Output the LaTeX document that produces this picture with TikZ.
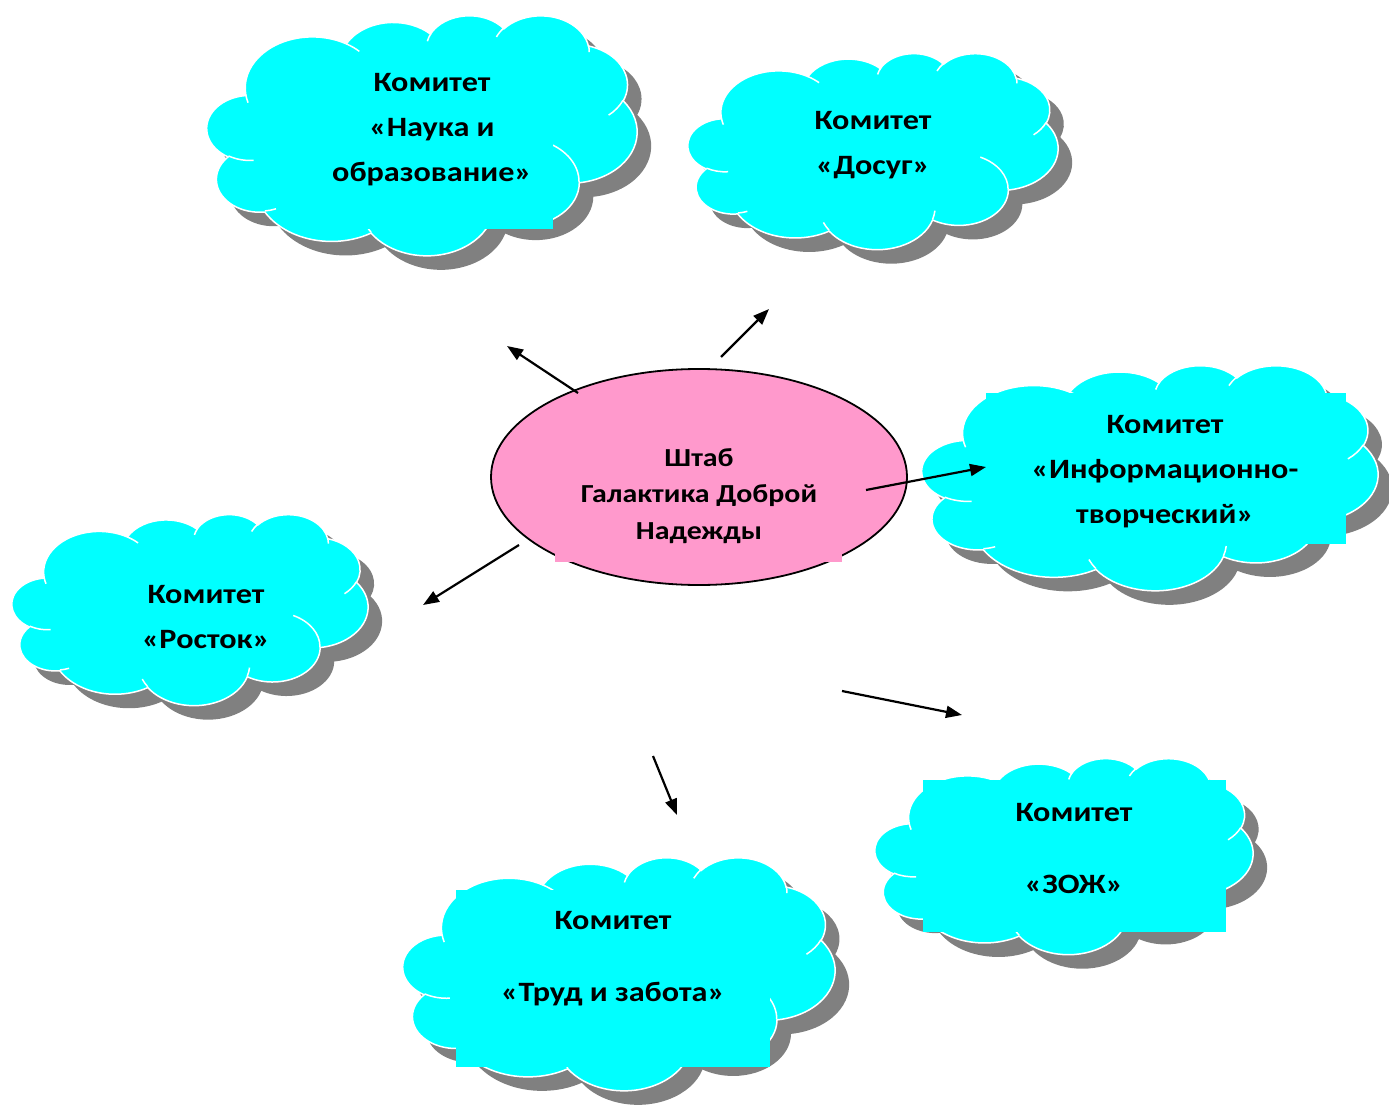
\documentclass[tikz,border=0pt]{standalone}
\usepackage{fontspec}
\setmainfont{Carlito}[FakeStretch=1.15]
\usetikzlibrary{shapes.geometric,arrows.meta}
\definecolor{cloudcyan}{HTML}{00FFFF}
\definecolor{shtabpink}{HTML}{FF99CC}
\definecolor{shadowgray}{HTML}{808080}
\tikzset{
  textpatch/.style={fill=cloudcyan, draw=none},
  cloudtext/.style={align=center, font=\fontsize{28}{45}\selectfont\bfseries, inner sep=0pt},
  shtabtext/.style={align=center, font=\fontsize{26}{36.5}\selectfont\bfseries, inner sep=0pt},
  linkarrow/.style={line width=2.2pt, -{Triangle[length=16pt,width=12pt]}},
  cloudedge/.style={draw=white, line width=1.5pt},
}
% Office-like cloud outline in a 4320 x 4320 local frame (y downwards)
\newcommand{\ocloudpath}[1]{%
  \path[#1] (390.0,1437.0)
    arc[start angle=-187.75, delta angle=128.11, x radius=675.3, y radius=919.0]
    arc[start angle=-152.02, delta angle=106.60, x radius=533.3, y radius=726.7]
    arc[start angle=-153.49, delta angle=116.18, x radius=436.5, y radius=594.5]
    arc[start angle=-139.71, delta angle=129.50, x radius=485.7, y radius=659.5]
    arc[start angle=-74.77, delta angle=97.98, x radius=533.3, y radius=727.3]
    arc[start angle=-37.52, delta angle=119.38, x radius=677.5, y radius=922.0]
    arc[start angle=0.46, delta angle=121.52, x radius=578.5, y radius=786.7]
    arc[start angle=16.84, delta angle=129.38, x radius=675.2, y radius=921.5]
    arc[start angle=59.01, delta angle=91.18, x radius=772.0, y radius=1054.3]
    arc[start angle=-276.69, delta angle=139.78, x radius=436.0, y radius=591.8]
    arc[start angle=-239.64, delta angle=143.75, x radius=434.5, y radius=594.5]
    -- cycle;}
\newcommand{\ocloudinner}{%
  \path[cloudedge]
    (469.3,2617.7) arc[start angle=85.54, delta angle=34.82, x radius=434.5, y radius=594.5]
    (692.8,3489.9) arc[start angle=68.25, delta angle=15.06, x radius=436.0, y radius=591.8]
    (1647.8,3909.0) arc[start angle=146.22, delta angle=12.25, x radius=675.2, y radius=921.5]
    (2882.7,3475.1) arc[start angle=4.74, delta angle=12.10, x radius=675.2, y radius=921.5]
    (3412.9,2295.4) arc[start angle=-64.00, delta angle=64.46, x radius=578.5, y radius=786.7]
    (4179.8,1535.4) arc[start angle=23.21, delta angle=26.44, x radius=533.3, y radius=727.3]
    (3832.4,542.6) arc[start angle=-10.21, delta angle=11.03, x radius=485.7, y radius=659.5]
    (2907.8,395.2) arc[start angle=-156.29, delta angle=16.58, x radius=485.7, y radius=659.5]
    (2214.1,472.0) arc[start angle=-167.72, delta angle=14.23, x radius=436.5, y radius=594.5]
    (1400.0,519.2) arc[start angle=-59.64, delta angle=13.93, x radius=675.3, y radius=919.0]
    (412.7,1578.9) arc[start angle=163.19, delta angle=9.06, x radius=675.3, y radius=919.0];}
% #1 name, #2 left, #3 top, #4 width, #5 height
\newcommand{\officecloud}[5]{%
  \begin{scope}[shift={(#2+14,#3+14)}, xscale=#4/4320, yscale=#5/4320]
    \ocloudpath{fill=shadowgray}
  \end{scope}
  \begin{scope}[shift={(#2,#3)}, xscale=#4/4320, yscale=#5/4320]
    \ocloudpath{fill=cloudcyan, cloudedge}
    \ocloudinner
    \coordinate (#1) at (2160,2160);
  \end{scope}}
\begin{document}
\begin{tikzpicture}[x=1pt,y=-1pt]
\useasboundingbox (0,0) rectangle (1389,1115);
\fill[white] (0,0) rectangle (1389,1115);

% clouds
\officecloud{nauka}{207}{15}{430}{240}
\fill[textpatch] (300,70) rectangle (553,229);
\node[cloudtext] (naukat) at (432,130) {Комитет\\«Наука и\\образование»};

\officecloud{dosug}{688}{53}{370}{196}
\node[cloudtext] (dosugt) at (873,145) {Комитет\\«Досуг»};

\officecloud{info}{922}{365}{456}{225}
\fill[textpatch] (986,393) rectangle (1346,544);
\node[cloudtext] (infot) at (1165,472) {Комитет\\«Информационно-\\творческий»};

\officecloud{rostok}{12}{514}{356}{191}
\node[cloudtext] (rostokt) at (206,617) {Комитет\\«Росток»};

\officecloud{zozh}{875}{758}{378}{196}
\fill[textpatch] (923,780) rectangle (1226,932);
\node[cloudtext] (zozht) at (1074,849) {Комитет\\[27pt]«ЗОЖ»};

\officecloud{trud}{403}{857}{432}{233}
\fill[textpatch] (456,890) rectangle (770,1067);
\node[cloudtext] (trudt) at (613,959) {Комитет\\[27pt]«Труд и забота»};

% centre
\node[ellipse, draw=black, line width=1.8pt, fill=shtabpink, minimum width=416pt, minimum height=216pt, inner sep=0pt] (shtab) at (699,477) {};
\fill[shtabpink] (555,520) rectangle (842,562);
\node[shtabtext] (shtabt) at (699,496) {Штаб\\Галактика Доброй\\Надежды};

% arrows
\coordinate (a1s) at (578,393); \coordinate (a1e) at (507,346);
\coordinate (a2s) at (721,357); \coordinate (a2e) at (769,309);
\coordinate (a3s) at (866,490); \coordinate (a3e) at (986,467);
\coordinate (a4s) at (519,545); \coordinate (a4e) at (423,605);
\coordinate (a5s) at (842,691); \coordinate (a5e) at (962,715);
\coordinate (a6s) at (653,756); \coordinate (a6e) at (677,815);
\draw[linkarrow] (a1s) -- (a1e);
\draw[linkarrow] (a2s) -- (a2e);
\draw[linkarrow] (a3s) -- (a3e);
\draw[linkarrow] (a4s) -- (a4e);
\draw[linkarrow] (a5s) -- (a5e);
\draw[linkarrow] (a6s) -- (a6e);
\end{tikzpicture}
\end{document}
